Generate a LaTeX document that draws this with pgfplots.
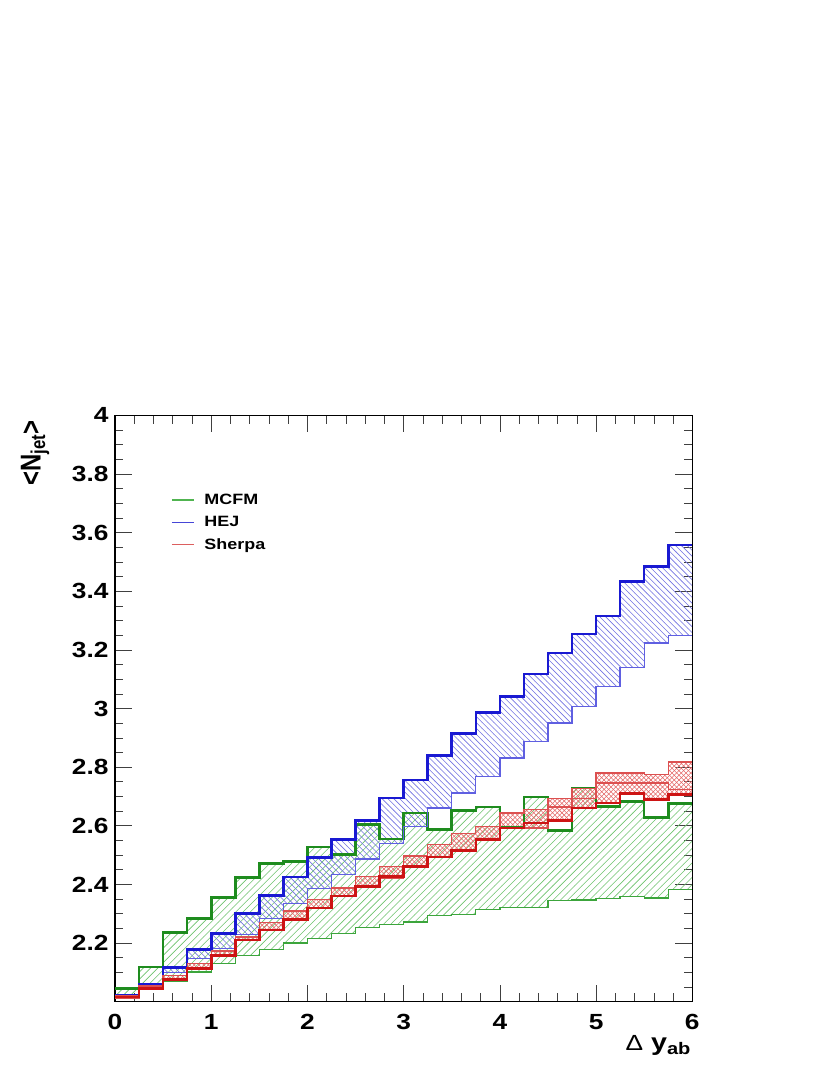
\documentclass[border=0pt]{standalone}
\usepackage{fontspec}
\setmainfont{Liberation Sans}[FakeStretch=1.2]
\newfontfamily\ylfont{Liberation Sans}
\usepackage{graphicx}
\usepackage{pgfplots}
\pgfplotsset{compat=1.18}
\usepackage{pgfplotstable}
\usetikzlibrary{patterns}

\definecolor{gthick}{RGB}{30,140,30}
\definecolor{gthin}{RGB}{60,165,60}
\definecolor{ghatch}{RGB}{110,195,110}
\definecolor{bthick}{RGB}{25,25,210}
\definecolor{bthin}{RGB}{95,95,225}
\definecolor{bhatch}{RGB}{115,115,225}
\definecolor{rthick}{RGB}{205,20,20}
\definecolor{rthin}{RGB}{220,80,80}
\definecolor{rhatch}{RGB}{228,105,105}
\definecolor{gleg}{RGB}{80,180,80}
\definecolor{bleg}{RGB}{70,70,215}
\definecolor{rleg}{RGB}{220,95,95}

\pgfdeclarepatternformonly{gstripe}{\pgfqpoint{-1pt}{-1pt}}{\pgfqpoint{8.3pt}{8.3pt}}{\pgfqpoint{7.3pt}{7.3pt}}{%
  \pgfsetlinewidth{0.6pt}\pgfpathmoveto{\pgfqpoint{-0.1pt}{-0.1pt}}\pgfpathlineto{\pgfqpoint{7.4pt}{7.4pt}}\pgfusepath{stroke}}
\pgfdeclarepatternformonly{bstripe}{\pgfqpoint{-1pt}{-1pt}}{\pgfqpoint{6.9pt}{6.9pt}}{\pgfqpoint{5.9pt}{5.9pt}}{%
  \pgfsetlinewidth{0.6pt}\pgfpathmoveto{\pgfqpoint{-0.1pt}{6.0pt}}\pgfpathlineto{\pgfqpoint{6.0pt}{-0.1pt}}\pgfusepath{stroke}}
\pgfdeclarepatternformonly{rcross}{\pgfqpoint{-1pt}{-1pt}}{\pgfqpoint{5.7pt}{5.7pt}}{\pgfqpoint{4.7pt}{4.7pt}}{%
  \pgfsetlinewidth{0.55pt}\pgfpathmoveto{\pgfqpoint{-0.1pt}{-0.1pt}}\pgfpathlineto{\pgfqpoint{4.8pt}{4.8pt}}%
  \pgfpathmoveto{\pgfqpoint{-0.1pt}{4.8pt}}\pgfpathlineto{\pgfqpoint{4.8pt}{-0.1pt}}\pgfusepath{stroke}}

% histogram edges (bin left edge, value); last row closes the last bin
\pgfplotstableread{
x    gu    gl    bu    bl    ru    rl    rc    rm
0.00 2.044 2.025 2.023 2.018 2.020 2.012 2.016 2.016
0.25 2.119 2.045 2.061 2.053 2.054 2.042 2.044 2.044
0.50 2.235 2.068 2.116 2.099 2.089 2.074 2.076 2.076
0.75 2.284 2.101 2.178 2.147 2.130 2.112 2.113 2.113
1.00 2.356 2.131 2.233 2.182 2.173 2.155 2.158 2.158
1.25 2.424 2.157 2.300 2.229 2.221 2.208 2.210 2.210
1.50 2.472 2.178 2.362 2.284 2.270 2.244 2.244 2.244
1.75 2.479 2.200 2.425 2.334 2.309 2.280 2.280 2.280
2.00 2.528 2.215 2.491 2.386 2.349 2.317 2.320 2.320
2.25 2.502 2.233 2.553 2.434 2.388 2.358 2.360 2.360
2.50 2.604 2.254 2.618 2.487 2.428 2.390 2.392 2.392
2.75 2.555 2.263 2.695 2.539 2.462 2.422 2.426 2.426
3.00 2.644 2.272 2.756 2.598 2.497 2.457 2.462 2.462
3.25 2.587 2.295 2.839 2.661 2.536 2.491 2.494 2.494
3.50 2.653 2.297 2.914 2.712 2.574 2.513 2.515 2.515
3.75 2.664 2.314 2.987 2.769 2.598 2.550 2.553 2.553
4.00 2.596 2.321 3.041 2.831 2.644 2.593 2.593 2.593
4.25 2.698 2.321 3.118 2.888 2.655 2.592 2.610 2.610
4.50 2.584 2.346 3.189 2.951 2.692 2.619 2.619 2.664
4.75 2.729 2.347 3.254 3.007 2.726 2.661 2.661 2.692
5.00 2.665 2.351 3.316 3.075 2.780 2.678 2.678 2.746
5.25 2.683 2.358 3.433 3.141 2.780 2.710 2.710 2.746
5.50 2.629 2.354 3.484 3.223 2.774 2.689 2.689 2.746
5.75 2.675 2.383 3.558 3.249 2.818 2.706 2.706 2.723
6.00 2.675 2.383 3.558 3.249 2.818 2.706 2.706 2.723
}\data

% band outlines: upper edge forward, then lower edge backward
\pgfplotstableread{
x    G     B     R
0.00 2.044 2.023 2.020
0.25 2.119 2.061 2.054
0.50 2.235 2.116 2.089
0.75 2.284 2.178 2.130
1.00 2.356 2.233 2.173
1.25 2.424 2.300 2.221
1.50 2.472 2.362 2.270
1.75 2.479 2.425 2.309
2.00 2.528 2.491 2.349
2.25 2.502 2.553 2.388
2.50 2.604 2.618 2.428
2.75 2.555 2.695 2.462
3.00 2.644 2.756 2.497
3.25 2.587 2.839 2.536
3.50 2.653 2.914 2.574
3.75 2.664 2.987 2.598
4.00 2.596 3.041 2.644
4.25 2.698 3.118 2.655
4.50 2.584 3.189 2.692
4.75 2.729 3.254 2.726
5.00 2.665 3.316 2.780
5.25 2.683 3.433 2.780
5.50 2.629 3.484 2.774
5.75 2.675 3.558 2.818
6.00 2.675 3.558 2.818
6.00 2.383 3.249 2.706
5.75 2.354 3.223 2.689
5.50 2.358 3.141 2.710
5.25 2.351 3.075 2.678
5.00 2.347 3.007 2.661
4.75 2.346 2.951 2.619
4.50 2.321 2.888 2.592
4.25 2.321 2.831 2.593
4.00 2.314 2.769 2.550
3.75 2.297 2.712 2.513
3.50 2.295 2.661 2.491
3.25 2.272 2.598 2.457
3.00 2.263 2.539 2.422
2.75 2.254 2.487 2.390
2.50 2.233 2.434 2.358
2.25 2.215 2.386 2.317
2.00 2.200 2.334 2.280
1.75 2.178 2.284 2.244
1.50 2.157 2.229 2.208
1.25 2.131 2.182 2.155
1.00 2.101 2.147 2.112
0.75 2.068 2.099 2.074
0.50 2.045 2.053 2.042
0.25 2.025 2.018 2.012
0.00 2.025 2.018 2.012
}\bands

\begin{document}
\begin{tikzpicture}
\useasboundingbox (0,0) rectangle (830bp,1075bp);
\begin{axis}[
  at={(115bp,73.3bp)}, anchor=south west,
  scale only axis, width=577.3bp, height=586.4bp,
  xmin=0, xmax=6, ymin=2, ymax=4,
  xtick={0,1,2,3,4,5,6}, xticklabels={0,1,2,3,4,5,6},
  minor x tick num=4,
  ytick={2,2.2,2.4,2.6,2.8,3,3.2,3.4,3.6,3.8,4},
  yticklabels={,2.2,2.4,2.6,2.8,3,3.2,3.4,3.6,3.8,4},
  minor y tick num=3,
  tick align=inside,
  major tick length=17bp, minor tick length=8.5bp,
  every tick/.style={black!75, line width=0.6bp},
  axis line style={line width=1.3bp, black},
  tick label style={font=\fontsize{22}{22}\selectfont\bfseries},
  xticklabel style={yshift=-9bp},
  yticklabel style={xshift=-3bp},
  ylabel={\scalebox{1}[1.2]{<N\textsubscript{jet}>}},
  ylabel style={at={(axis description cs:-0.1386,0.992)}, anchor=east, inner sep=0pt,
    font=\fontsize{24}{24}\ylfont\bfseries},
  xlabel={{\fontsize{22}{22}\selectfont\mdseries Δ} y\textsubscript{ab}},
  xlabel style={at={(axis description cs:0.998,-0.0836)}, anchor=base east, inner sep=0pt,
    font=\fontsize{24}{24}\selectfont\bfseries},
  legend style={at={(axis description cs:0.092,0.873)}, anchor=north west, draw=none, fill=none,
    font=\fontsize{15}{15}\selectfont\bfseries, row sep=6.5bp,
    /tikz/every odd column/.append style={column sep=8bp}},
  legend cell align=left,
  legend image code/.code={\draw[#1] (0bp,0bp) -- (22bp,0bp);},
]
% hatched bands
\addplot[const plot, draw=none, pattern=gstripe, pattern color=ghatch, forget plot] table[x=x,y=G]{\bands};
\addplot[const plot, draw=none, pattern=bstripe, pattern color=bhatch, forget plot] table[x=x,y=B]{\bands};
\addplot[const plot, draw=none, pattern=rcross, pattern color=rhatch, forget plot] table[x=x,y=R]{\bands};
% MCFM
\addplot[const plot, gthin, line width=1.3bp, forget plot] table[x=x,y=gl]{\data};
\addplot[const plot, gthick, line width=2.6bp, forget plot] table[x=x,y=gu]{\data};
% HEJ
\addplot[const plot, bthin, line width=1.3bp, forget plot] table[x=x,y=bl]{\data};
\addplot[const plot, bthick, line width=2.6bp, forget plot] table[x=x,y=bu]{\data};
% Sherpa
\addplot[const plot, rthin, line width=1.3bp, forget plot] table[x=x,y=ru]{\data};
\addplot[const plot, rthin, line width=1.3bp, forget plot] table[x=x,y=rl]{\data};
\addplot[const plot, rthin, line width=1.3bp, forget plot] table[x=x,y=rm]{\data};
\addplot[const plot, rthick, line width=2.6bp, forget plot] table[x=x,y=rc]{\data};
% legend
\addlegendimage{draw=gleg, line width=1.2bp}
\addlegendentry{MCFM}
\addlegendimage{draw=bleg, line width=1.2bp}
\addlegendentry{HEJ}
\addlegendimage{draw=rleg, line width=1.2bp}
\addlegendentry{Sherpa}
\end{axis}
\end{tikzpicture}
\end{document}
